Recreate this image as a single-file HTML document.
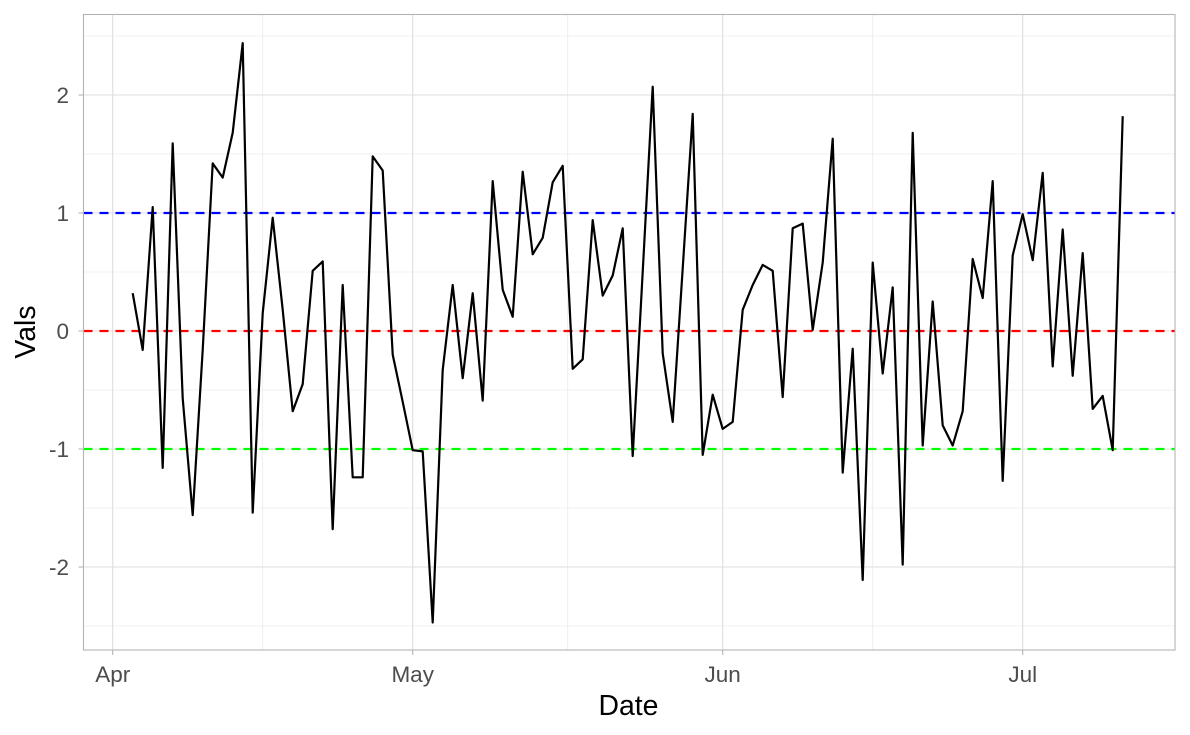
<!DOCTYPE html>
<html><head><meta charset="utf-8"><style>
html,body{margin:0;padding:0;background:#fff;}
svg{display:block;font-family:"Liberation Sans",Arial,sans-serif;}
</style></head><body>
<svg id="chart" width="1190" height="735" xmlns="http://www.w3.org/2000/svg"></svg>
<script>
const startDay = 2; // Apr 3 = day index 2 from Apr 1
const values = [0.32,-0.16,1.05,-1.16,1.59,-0.57,-1.56,-0.16,1.42,1.30,
1.68,2.44,-1.54,0.15,0.96,0.18,-0.68,-0.45,0.51,0.59,
-1.68,0.39,-1.24,-1.24,1.48,1.36,-0.20,-0.60,-1.01,-1.02,
-2.47,-0.33,0.39,-0.40,0.32,-0.59,1.27,0.35,0.12,1.35,
0.65,0.79,1.26,1.40,-0.32,-0.24,0.94,0.30,0.47,0.87,
-1.06,0.50,2.07,-0.19,-0.77,0.53,1.84,-1.05,-0.54,-0.83,
-0.77,0.18,0.39,0.56,0.51,-0.56,0.87,0.91,0.01,0.58,
1.63,-1.20,-0.15,-2.11,0.58,-0.36,0.37,-1.98,1.68,-0.97,
0.25,-0.80,-0.97,-0.68,0.61,0.28,1.27,-1.27,0.64,0.99,
0.60,1.34,-0.30,0.86,-0.38,0.66,-0.66,-0.55,-1.01,1.82];
const hlineVals = [1, 0, -1];
const hlineColors = ['#0000ff','#ff0000','#00ff00'];
const hlineNames = ['upper-threshold-line','zero-line','lower-threshold-line'];
const yTicks = [-2,-1,0,1,2];
const yMinor = [-2.5,-1.5,-0.5,0.5,1.5,2.5];
const xTickLabels = ['Apr','May','Jun','Jul'];
const xTickDays = [0,30,61,91];
const xMinorDays = [15,45.5,76];

const L=83.5,R=1175,T=14.5,B=650;
const x = d => 112.7 + d*10;
const y = v => 331 - v*118;
const NS='http://www.w3.org/2000/svg';
const svg=document.getElementById('chart');
function mk(tag,attrs,parent){const e=document.createElementNS(NS,tag);for(const k in attrs)e.setAttribute(k,attrs[k]);(parent||svg).appendChild(e);return e;}

const grid=mk('g',{});


yMinor.forEach(v=>{const l=mk('line',{x1:L,x2:R,y1:y(v),y2:y(v),stroke:'#ebebeb','stroke-width':0.8},grid);

});
xMinorDays.forEach(d=>{const l=mk('line',{x1:x(d),x2:x(d),y1:T,y2:B,stroke:'#ebebeb','stroke-width':0.8},grid);

});
yTicks.forEach(v=>{const l=mk('line',{x1:L,x2:R,y1:y(v),y2:y(v),stroke:'#dedede','stroke-width':1.1},grid);

});
xTickDays.forEach(d=>{const l=mk('line',{x1:x(d),x2:x(d),y1:T,y2:B,stroke:'#dedede','stroke-width':1.1},grid);

});

hlineVals.forEach((v,i)=>{const l=mk('line',{x1:L,x2:R,y1:y(v),y2:y(v),stroke:hlineColors[i],'stroke-width':2.2,'stroke-dasharray':'9,7'});

});

const pts=values.map((v,i)=>x(startDay+i).toFixed(1)+','+y(v).toFixed(1)).join(' ');
const pl=mk('polyline',{points:pts,fill:'none',stroke:'#000','stroke-width':2.2,'stroke-linejoin':'round'});



const border=mk('rect',{x:L,y:T,width:R-L,height:B-T,fill:'none',stroke:'#b3b3b3','stroke-width':1.1});



yTicks.forEach(v=>{mk('line',{x1:L-5,x2:L,y1:y(v),y2:y(v),stroke:'#b3b3b3','stroke-width':1.1});
const t=mk('text',{x:69,y:y(v)+8.2,'text-anchor':'end','font-size':22.5,fill:'#4d4d4d'});t.textContent=v;

});
xTickDays.forEach((d,i)=>{mk('line',{x1:x(d),x2:x(d),y1:B,y2:B+5,stroke:'#b3b3b3','stroke-width':1.1});
const t=mk('text',{x:x(d),y:682,'text-anchor':'middle','font-size':22.5,fill:'#4d4d4d'});t.textContent=xTickLabels[i];

});

const xt=mk('text',{x:628.5,y:715,'text-anchor':'middle','font-size':28.4,fill:'#000'});xt.textContent='Date';


const yt=mk('text',{x:35,y:332,'text-anchor':'middle','font-size':28.4,fill:'#000',transform:'rotate(-90 35 332)'});yt.textContent='Vals';


</script>
</body></html>
